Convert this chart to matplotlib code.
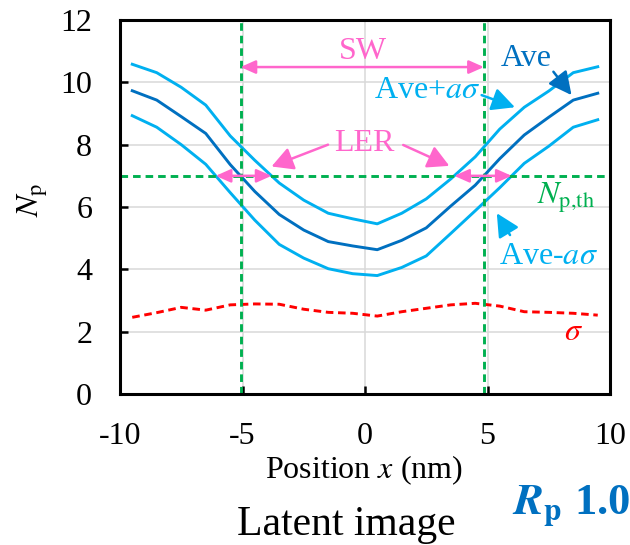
import numpy as np
import matplotlib
matplotlib.use("Agg")
import matplotlib.pyplot as plt
from matplotlib.patches import FancyArrowPatch

plt.rcParams["font.family"] = ["Liberation Serif", "DejaVu Serif"]
plt.rcParams["mathtext.fontset"] = "stix"

# Photon-number profile across the line (nm)
position = [-9.5, -8.5, -7.5, -6.5, -5.5, -4.5, -3.5, -2.5, -1.5, -0.5,
            0.5, 1.5, 2.5, 3.5, 4.5, 5.5, 6.5, 7.5, 8.5, 9.5]
ave_plus = [10.58, 10.31, 9.84, 9.27, 8.28, 7.50, 6.77, 6.22, 5.80, 5.62,
            5.46, 5.80, 6.26, 6.90, 7.61, 8.50, 9.20, 9.72, 10.31, 10.50]
ave = [9.73, 9.43, 8.90, 8.36, 7.36, 6.50, 5.76, 5.26, 4.89, 4.75,
       4.63, 4.93, 5.33, 6.03, 6.70, 7.55, 8.31, 8.88, 9.43, 9.65]
ave_minus = [8.93, 8.56, 8.00, 7.37, 6.46, 5.58, 4.80, 4.36, 4.02, 3.86,
             3.80, 4.06, 4.43, 5.15, 5.88, 6.62, 7.40, 7.95, 8.56, 8.80]
sigma = [2.46, 2.61, 2.78, 2.69, 2.86, 2.89, 2.88, 2.72, 2.62, 2.59,
         2.50, 2.64, 2.75, 2.86, 2.91, 2.82, 2.64, 2.62, 2.59, 2.53]
np_threshold = 7.0

x_ticks = [-10, -5, 0, 5, 10]
y_ticks = [0, 2, 4, 6, 8, 10, 12]

C_AVE = "#0070C0"
C_BAND = "#00B0F0"
C_SIG = "#FF0000"
C_TH = "#00B050"
C_PINK = "#FF66CC"
FS = 23

W, H = 630, 545
fig = plt.figure(figsize=(W / 100, H / 100), dpi=100)
ax = fig.add_axes([120 / W, 1 - 394 / H, 490 / W, 374 / H])


def crossings(xs, ys, level):
    """x positions where a piecewise-linear curve crosses a level."""
    xs, ys = np.asarray(xs), np.asarray(ys)
    out = []
    for i in range(len(xs) - 1):
        y0, y1 = ys[i] - level, ys[i + 1] - level
        if y0 == 0 or y0 * y1 < 0:
            out.append(xs[i] + (xs[i + 1] - xs[i]) * y0 / (y0 - y1))
    return out


# grid
for gx in [-5, 0, 5]:
    ax.axvline(gx, color="#D9D9D9", lw=1.1, zorder=0)
for gy in [2, 4, 6, 8, 10]:
    ax.axhline(gy, color="#D9D9D9", lw=1.1, zorder=0)

ax.plot(position, ave_plus, color=C_BAND, lw=2.1, zorder=3)
ax.plot(position, ave, color=C_AVE, lw=2.1, zorder=3)
ax.plot(position, ave_minus, color=C_BAND, lw=2.1, zorder=3)
ax.plot(position, sigma, color=C_SIG, lw=2.1, dashes=(2.6, 1.6), zorder=3)

# threshold and space-width markers
sw_left, sw_right = crossings(position, ave, np_threshold)
up_left, up_right = crossings(position, ave_plus, np_threshold)
lo_left, lo_right = crossings(position, ave_minus, np_threshold)

dash = (2.6, 1.7)
ax.axhline(np_threshold, color=C_TH, lw=2.1, dashes=dash, zorder=4)
ax.axvline(sw_left, color=C_TH, lw=2.1, dashes=dash, zorder=4)
ax.axvline(sw_right, color=C_TH, lw=2.1, dashes=dash, zorder=4)


def arrow(p0, p1, color, style="-|>", hl=9, hw=5, lw=1.8):
    a = FancyArrowPatch(p0, p1, arrowstyle=f"{style},head_length={hl/1.39:.2f},head_width={hw/1.39:.2f}",
                        color=color, lw=lw, shrinkA=0, shrinkB=0,
                        mutation_scale=1.39, zorder=6)
    ax.add_patch(a)


arrow((sw_left, 10.49), (sw_right, 10.49), C_PINK, style="<|-|>", hl=9, hw=4)
arrow((lo_left, np_threshold), (up_left, np_threshold), C_PINK, style="<|-|>", hl=9, hw=4)
arrow((up_right, np_threshold), (lo_right, np_threshold), C_PINK, style="<|-|>", hl=9, hw=4)
arrow((-1.51, 8.0), (up_left, 7.3), C_PINK, hl=13, hw=7)
arrow((1.56, 7.99), (up_right - 0.2, 7.32), C_PINK, hl=13, hw=7)
arrow((7.69, 10.34), (8.43, 9.59), C_AVE, hl=14, hw=7)
arrow((4.76, 9.59), (6.12, 9.20), C_BAND, hl=14, hw=7)
arrow((5.92, 5.10), (5.38, 5.80), C_BAND, hl=14, hw=7)

ax.text(-0.08, 10.99, "SW", color=C_PINK, fontsize=FS, ha="center", va="center")
ax.text(-0.04, 8.05, "LER", color=C_PINK, fontsize=FS, ha="center", va="center")
ax.text(6.57, 10.78, "Ave", color=C_AVE, fontsize=FS, ha="center", va="center")
ax.text(2.53, 9.75, r"Ave+$a\sigma$", color=C_BAND, fontsize=FS, ha="center", va="center")
ax.text(7.51, 4.40, r"Ave-$a\sigma$", color=C_BAND, fontsize=FS, ha="center", va="center")
ax.text(7.02, 6.10, r"$N_{\mathrm{p{,}th}}$", color=C_TH, fontsize=FS, ha="left", va="baseline")
ax.text(8.49, 1.97, r"$\sigma$", color=C_SIG, fontsize=FS, ha="center", va="center")

ax.set_xlim(-10, 10)
ax.set_ylim(0, 12)
ax.set_xticks(x_ticks)
ax.set_yticks(y_ticks)
ax.set_xticklabels([f"{v:d}" for v in x_ticks])
ax.set_yticklabels([f"{v:d}" for v in y_ticks])
ax.tick_params(direction="in", length=6, width=1.8, labelsize=FS, top=False, right=False)
ax.tick_params(axis="y", pad=20)
ax.tick_params(axis="x", pad=20)
for s in ax.spines.values():
    s.set_linewidth(2.2)
    s.set_zorder(7)

fig.text(33 / W, 1 - 200 / H, r"$N_{\mathrm{p}}$", fontsize=FS, rotation=90,
         ha="center", va="center")
fig.text(364 / W, 1 - 470 / H, r"Position $x$ (nm)", fontsize=23,
         ha="center", va="center")
fig.text(346 / W, 1 - 535 / H, "Latent image", fontsize=30,
         ha="center", va="baseline")
fig.text(512 / W, 1 - 514 / H, r"$\boldsymbol{R}_{\mathbf{p}}$ 1.0", fontsize=32,
         color=C_AVE, fontweight="bold", ha="left", va="baseline")

fig.savefig("out.png", dpi=100)
